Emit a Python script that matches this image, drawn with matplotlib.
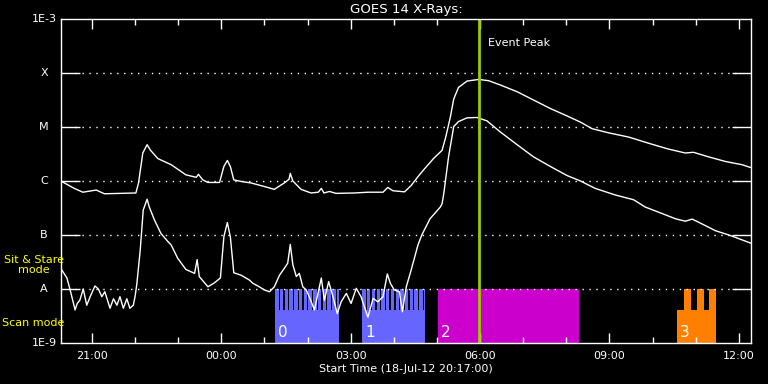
import matplotlib
matplotlib.use('Agg')
import matplotlib.pyplot as plt
import numpy as np
from matplotlib.ticker import FixedLocator, NullLocator, FuncFormatter

# time in hours since 00:00 UT on 18-Jul-12 (values > 24 are on 19-Jul)
t_start = 20 + 17 / 60
t_end = t_start + 16

# GOES long channel (1-8 A), W/m^2
long_time = [20.28, 20.59, 20.79, 21.10, 21.29, 22.02, 22.08, 22.18, 22.28, 22.36,
             22.53, 22.84, 22.95, 23.18, 23.42, 23.47, 23.57, 23.69, 23.96, 24.06,
             24.14, 24.21, 24.29, 24.46, 24.69, 25.00, 25.23, 25.46, 25.57, 25.60,
             25.66, 25.85, 26.08, 26.25, 26.32, 26.38, 26.51, 26.66, 27.09, 27.40,
             27.75, 27.86, 27.98, 28.25, 28.40, 28.56, 28.69, 28.92, 29.12, 29.20,
             29.31, 29.39, 29.50, 29.70, 29.97, 30.20, 30.47, 30.86, 31.24, 31.63,
             32.02, 32.33, 32.60, 32.98, 33.45, 33.91, 34.37, 34.76, 34.95, 35.30,
             35.69, 36.08, 36.27]
long_flux = [1.0e-6, 7.3e-7, 6.2e-7, 6.8e-7, 5.8e-7, 6.0e-7, 9.1e-7, 3.3e-6, 4.7e-6, 3.7e-6,
             2.6e-6, 2.0e-6, 1.74e-6, 1.3e-6, 1.17e-6, 1.33e-6, 1.05e-6, 9.4e-7, 9.4e-7, 1.86e-6,
             2.4e-6, 1.86e-6, 1.05e-6, 9.8e-7, 9.2e-7, 7.9e-7, 7.0e-7, 9.2e-7, 1.07e-6, 1.38e-6,
             1.0e-6, 7.0e-7, 6.0e-7, 6.2e-7, 7.3e-7, 6.0e-7, 6.4e-7, 5.9e-7, 6.0e-7, 6.2e-7,
             6.2e-7, 7.6e-7, 6.6e-7, 6.3e-7, 8.2e-7, 1.2e-6, 1.6e-6, 2.6e-6, 3.7e-6, 6.3e-6,
             1.5e-5, 3.3e-5, 5.4e-5, 7.1e-5, 7.6e-5, 7.2e-5, 6.0e-5, 4.5e-5, 3.16e-5, 2.2e-5,
             1.6e-5, 1.23e-5, 9.3e-6, 7.8e-6, 6.5e-6, 5.0e-6, 3.9e-6, 3.3e-6, 3.4e-6, 2.8e-6,
             2.3e-6, 2.0e-6, 1.78e-6]

# GOES short channel (0.5-4 A), W/m^2
short_time = [20.28, 20.42, 20.49, 20.61, 20.66, 20.72, 20.80, 20.88, 20.96, 21.07,
              21.15, 21.23, 21.30, 21.42, 21.50, 21.58, 21.65, 21.73, 21.81, 21.88,
              21.96, 22.00, 22.04, 22.12, 22.19, 22.28, 22.33, 22.45, 22.60, 22.76,
              22.84, 22.99, 23.18, 23.38, 23.44, 23.49, 23.69, 23.84, 23.98, 24.06,
              24.14, 24.21, 24.29, 24.46, 24.65, 24.73, 24.88, 25.00, 25.12, 25.23,
              25.35, 25.46, 25.54, 25.60, 25.66, 25.74, 25.81, 25.89, 25.97, 26.04,
              26.16, 26.32, 26.39, 26.49, 26.59, 26.69, 26.78, 26.90, 27.01, 27.13,
              27.24, 27.40, 27.52, 27.63, 27.75, 27.85, 27.92, 28.01, 28.13, 28.20,
              28.29, 28.40, 28.56, 28.65, 28.84, 29.08, 29.12, 29.16, 29.27, 29.39,
              29.50, 29.70, 29.93, 30.16, 30.47, 30.86, 31.24, 31.63, 32.02, 32.33,
              32.67, 33.14, 33.56, 33.83, 34.22, 34.53, 34.76, 34.92, 35.15, 35.46,
              35.77, 36.08, 36.27]
short_flux = [2.4e-8, 1.6e-8, 1.0e-8, 4.1e-9, 5.4e-9, 6.2e-9, 1.0e-8, 5.0e-9, 7.2e-9, 1.14e-8,
              1.0e-8, 7.2e-9, 8.9e-9, 4.4e-9, 6.6e-9, 5.0e-9, 7.2e-9, 4.4e-9, 6.6e-9, 4.4e-9,
              5.0e-9, 7.2e-9, 1.2e-8, 5.2e-8, 2.9e-7, 4.6e-7, 3.3e-7, 1.9e-7, 1.07e-7, 7.6e-8,
              6.5e-8, 3.7e-8, 2.3e-8, 1.95e-8, 3.5e-8, 1.7e-8, 1.1e-8, 1.3e-8, 1.6e-8, 9.3e-8,
              1.7e-7, 9.3e-8, 2.0e-8, 1.8e-8, 1.47e-8, 1.28e-8, 1.1e-8, 9.6e-9, 8.9e-9, 1.1e-8,
              1.8e-8, 2.4e-8, 3.0e-8, 6.7e-8, 2.8e-8, 1.7e-8, 1.95e-8, 1.1e-8, 9.6e-9, 7.2e-9,
              4.1e-9, 1.6e-8, 6.2e-9, 1.37e-8, 7.2e-9, 3.5e-9, 5.8e-9, 8.3e-9, 5.4e-9, 1.03e-8,
              7.2e-9, 3.0e-9, 6.7e-9, 5.8e-9, 7.2e-9, 1.9e-8, 1.28e-8, 9.6e-9, 8.9e-9, 3.8e-9,
              1.1e-8, 2.2e-8, 6.5e-8, 1.0e-7, 2.0e-7, 3.3e-7, 3.8e-7, 5.9e-7, 2.8e-6, 1.02e-5,
              1.26e-5, 1.48e-5, 1.5e-5, 1.3e-5, 8.1e-6, 4.7e-6, 2.8e-6, 1.86e-6, 1.26e-6, 1.0e-6,
              7.3e-7, 5.5e-7, 4.5e-7, 3.3e-7, 2.5e-7, 2.0e-7, 1.8e-7, 1.97e-7, 1.6e-7, 1.2e-7,
              1.0e-7, 8.1e-8, 7.1e-8]

event_peak = 29.98

# observing modes
scan_regions = [(25.25, 26.73), (27.27, 28.73)]
scan_cadence = 0.11      # hours between scans
scan_gap = 0.03          # hours of dead time per scan
stare_region = (29.02, 32.30)
mixed_region = (34.57, 35.48)
mixed_stare = [(34.72, 34.90), (35.02, 35.20), (35.32, 35.48)]
region_labels = ['0', '1', '2', '3']

flux_floor = 1e-9
scan_level = 4.1e-9
stare_level = 1e-8

class_levels = [1e-8, 1e-7, 1e-6, 1e-5, 1e-4]
class_names = ['A', 'B', 'C', 'M', 'X']

blue = '#6666ff'
magenta = '#cc00cc'
orange = '#ff8000'

plt.rcParams['font.family'] = 'DejaVu Sans'
plt.rcParams['font.size'] = 8

fig = plt.figure(figsize=(7.68, 3.84), dpi=100, facecolor='black')
ax = fig.add_axes([61 / 768, 41 / 384, 690 / 768, 324 / 384])
ax.set_facecolor('black')
ax.set_yscale('log')
ax.set_ylim(1e-9, 1e-3)
ax.set_xlim(t_start, t_end)

# mode bars
for (t0, t1) in scan_regions:
    ax.fill_between([t0, t1], flux_floor, scan_level, color=blue, lw=0)
    for s in np.arange(t0, t1 - 0.01, scan_cadence):
        e = min(s + scan_cadence - scan_gap, t1)
        ax.fill_between([s, e], scan_level * 0.98, stare_level, color=blue, lw=0)

ax.fill_between(list(stare_region), flux_floor, stare_level, color=magenta, lw=0)

ax.fill_between(list(mixed_region), flux_floor, scan_level, color=orange, lw=0)
for (t0, t1) in mixed_stare:
    ax.fill_between([t0, t1], scan_level * 0.98, stare_level, color=orange, lw=0)

region_starts = [scan_regions[0][0], scan_regions[1][0], stare_region[0], mixed_region[0]]
for t0, lab in zip(region_starts, region_labels):
    ax.annotate(lab, xy=(t0, 1.55e-9), xytext=(2, 0), textcoords='offset points',
                color='white', fontsize=11, va='center', ha='left')

# class grid
for lvl in class_levels:
    ax.axhline(lvl, xmin=14 / 690, xmax=1 - 14 / 690, color='white', lw=1,
               linestyle=(0, (1, 4)))

ax.plot(long_time, long_flux, color='white', lw=1)
ax.plot(short_time, short_flux, color='white', lw=1)

ax.axvline(event_peak, color='#99cc00', lw=2)
ax.annotate('Event Peak', xy=(event_peak, 3.6e-4), xytext=(6, 0),
            textcoords='offset points', color='white', va='center')

# axes styling
for sp in ax.spines.values():
    sp.set_color('white')
    sp.set_linewidth(1)

ax.yaxis.set_major_locator(FixedLocator(class_levels))
ax.yaxis.set_minor_locator(NullLocator())
ax.set_yticklabels([])
ax.tick_params(axis='y', which='major', direction='in', length=14, width=1,
               left=True, right=True, color='white')

ax.xaxis.set_major_locator(FixedLocator([21, 24, 27, 30, 33, 36]))
ax.xaxis.set_minor_locator(FixedLocator(list(range(21, 37))))
ax.xaxis.set_major_formatter(FuncFormatter(lambda h, p: '%02d:00' % (int(round(h)) % 24)))
ax.tick_params(axis='x', which='major', direction='in', length=7, width=1,
               top=True, bottom=True, color='white', labelcolor='white', pad=6)
ax.tick_params(axis='x', which='minor', direction='in', length=4, width=1,
               top=True, bottom=True, color='white')

ytr = ax.get_yaxis_transform()
for lvl, name in zip(class_levels, class_names):
    ax.text(-0.0246, lvl, name, transform=ytr, color='white', ha='center', va='center')
ax.text(-0.006, 1e-3, '1E-3', transform=ytr, color='white', ha='right', va='center')
ax.text(-0.006, 1e-9, '1E-9', transform=ytr, color='white', ha='right', va='center')

fig.text(34 / 768, 1 - 265 / 384, 'Sit & Stare\nmode', color='yellow', ha='center',
         va='center', linespacing=1.1)
fig.text(2 / 768, 1 - 323 / 384, 'Scan mode', color='yellow', ha='left', va='center')

ax.set_title('GOES 14 X-Rays:', color='white', pad=4)
ax.set_xlabel('Start Time (18-Jul-12 20:17:00)', color='white', labelpad=2)

fig.savefig('out.png', dpi=100, facecolor='black')
